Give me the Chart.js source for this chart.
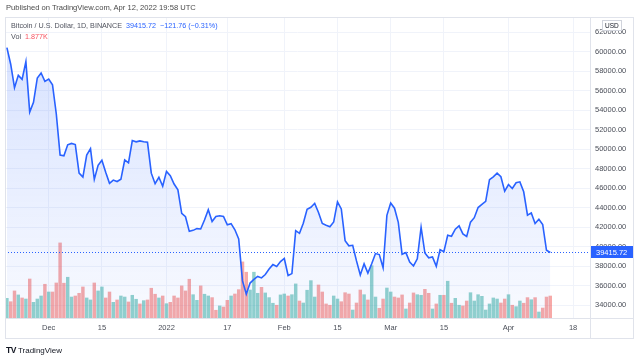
<!DOCTYPE html>
<html>
<head>
<meta charset="utf-8">
<script src="https://cdn.jsdelivr.net/npm/chart.js@4.4.1/dist/chart.umd.min.js"></script>
<style>
  body { margin: 0; background: #fff; font-family: "Liberation Sans", Arial, sans-serif; }
  #wrap { position: relative; width: 640px; height: 358px; overflow: hidden; }
  #c { position: absolute; left: 0; top: 0; }
  .txt { position: absolute; white-space: nowrap; font-size: 7.5px; color: #50535e; }
</style>
</head>
<body>
<div id="wrap">
  <canvas id="c" width="640" height="358"></canvas>
  <div class="txt" style="left:6px; top:3px; font-size:7.6px; color:#4a4a4a;">Published on TradingView.com, Apr 12, 2022 19:58 UTC</div>
  <div class="txt" style="left:11px; top:21px; font-size:7.2px;">Bitcoin / U.S. Dollar, 1D, BINANCE&nbsp; <span style="color:#2962ff">39415.72&nbsp; −121.76 (−0.31%)</span></div>
  <div class="txt" style="left:11px; top:32px; font-size:7.2px;">Vol&nbsp; <span style="color:#f7525f">1.877K</span></div>
  <div class="txt" style="left:6px; top:345px; font-size:8px; color:#131722;"><b style="font-size:8.5px; letter-spacing:-0.5px;">TV</b> TradingView</div>
</div>
<script>
// BTC/USD daily, Nov 20 2021 -> Apr 12 2022 (one entry per day)
const closes = [
  // Nov 20-30
  60400, 58700, 56300, 57560, 57150, 58960, 53800, 54800, 57290, 57800, 56950,
  // Dec
  57180, 56600, 53600, 49400, 49320, 50440, 50590, 50470, 47550, 47140,
  49390, 50050, 46900, 48340, 48860, 47630, 46500, 46830, 46680, 46910,
  48890, 48590, 50880, 50750, 50850, 50750, 50700, 47540, 46460, 47120, 46200,
  // Jan
  47720, 47290, 46430, 45830, 43430, 43080, 41580, 41680, 41860, 41820,
  42740, 43800, 42590, 43100, 43180, 43110, 42250, 42370, 41740, 40800,
  36500, 35150, 36280, 36660, 36960, 36810, 37160, 37720, 38170, 37980, 38480,
  // Feb
  38800, 37050, 37250, 41650, 41380, 42410, 43840, 44040, 44450, 43510,
  42380, 42200, 42050, 42540, 44600, 43880, 40620, 40100, 40150, 38550,
  37100, 38250, 37300, 38250, 39300, 39200, 37850, 43220,
  // Mar
  44480, 43950, 42500, 39230, 39400, 38440, 38030, 38770, 42000, 39360,
  38870, 38950, 38000, 39700, 39500, 41180, 41080, 41800, 42140, 41320,
  41060, 42520, 42980, 44020, 44330, 44650, 46880, 47170, 47550, 47170, 45700,
  // Apr
  46380, 45970, 46550, 46650, 45630, 43230, 43470, 42380, 42820, 42280, 39640, 39415.72
];

// volume in thousands (K)
const volumes = [
  1.68, 1.39, 2.31, 1.97, 1.71, 1.62, 3.33, 1.34, 1.62, 1.88, 2.88,
  2.22, 2.22, 2.99, 6.41, 2.97, 3.48, 1.79, 1.88, 2.11, 2.65,
  1.71, 1.54, 2.99, 2.31, 2.65, 1.71, 2.22, 1.34, 1.54, 1.88,
  1.79, 1.37, 1.94, 1.60, 1.20, 1.48, 1.54, 2.54, 2.03, 1.71, 1.88,
  1.22, 1.34, 1.88, 1.71, 2.74, 2.31, 3.31, 1.99, 1.51, 2.74,
  2.03, 1.88, 1.74, 0.66, 1.03, 0.94, 1.51, 1.88, 2.05, 2.42,
  4.79, 3.91, 2.39, 3.91, 2.11, 2.62, 2.14, 1.74, 1.26, 1.09, 1.97,
  2.05, 1.88, 1.99, 2.91, 1.45, 1.28, 2.37, 3.19, 1.79, 2.82,
  2.22, 1.20, 1.09, 1.88, 1.62, 1.39, 2.16, 2.05, 0.68, 1.28,
  2.39, 1.99, 1.54, 4.47, 1.79, 0.83, 1.62, 2.56,
  2.22, 1.79, 1.71, 1.97, 0.77, 1.28, 2.14, 1.99, 1.94, 2.45,
  2.11, 0.77, 1.20, 1.94, 1.94, 3.14, 1.26, 1.68, 1.09, 1.03,
  1.45, 2.16, 1.45, 1.99, 1.85, 0.68, 1.20, 1.71, 1.62, 1.28, 1.62,
  1.99, 1.09, 0.97, 1.45, 1.26, 1.74, 1.56, 1.74, 0.51, 0.85, 1.79, 1.877
];

// candle direction per day, U = up (green), D = down (red)
const candleDir = (
  'UDDUDUDUUUD' +
  'UDDDDUUDDDUUDUUDDUDUUDUUDUDDDUD' +
  'UDDDDDDUUDUUDDUDDUDDDDUUUDUUUDU' +
  'UDUUDUUUUDDDDUUDDDUDDUDUUDDU' +
  'UDDDUDDUUDDUDUDUDUUDDUUUUUUUUDD' +
  'UDUUDDUDUDDD'
).split('');

// time axis labels (day index from Nov 20)
const tickDays = [11, 25, 42, 58, 73, 87, 101, 115, 132, 149];
const tickLabels = ['Dec', '15', '2022', '17', 'Feb', '15', 'Mar', '15', 'Apr', '18'];

const priceTicks = [34000, 36000, 38000, 40000, 42000, 44000, 46000, 48000,
  50000, 52000, 54000, 56000, 58000, 60000, 62000];

const lastClose = closes[closes.length - 1];

const lineColor = '#2962ff';
const upVol = 'rgba(38, 166, 154, 0.5)';
const downVol = 'rgba(239, 83, 80, 0.5)';
const gridColor = '#f0f3fa';
const frameColor = '#e0e3eb';
const labelFont = { family: 'Liberation Sans', size: 7.5 };

const framePlugin = {
  id: 'frame',
  afterDraw(chart) {
    const ctx = chart.ctx;
    const a = chart.chartArea;
    const y = chart.scales.y.getPixelForValue(lastClose);
    ctx.save();
    // last price dotted line
    ctx.strokeStyle = lineColor;
    ctx.lineWidth = 1;
    ctx.setLineDash([1, 2]);
    ctx.beginPath();
    ctx.moveTo(a.left, Math.round(y) + 0.5);
    ctx.lineTo(a.right, Math.round(y) + 0.5);
    ctx.stroke();
    ctx.setLineDash([]);
    // frame
    ctx.strokeStyle = frameColor;
    ctx.strokeRect(a.left + 0.5, a.top + 0.5, 633 - a.left, 338 - a.top);
    ctx.beginPath();
    ctx.moveTo(a.right + 0.5, a.top);
    ctx.lineTo(a.right + 0.5, 338);
    ctx.moveTo(a.left, a.bottom + 0.5);
    ctx.lineTo(633, a.bottom + 0.5);
    ctx.stroke();
    // price label
    ctx.fillStyle = lineColor;
    ctx.fillRect(a.right + 1, Math.round(y) - 6, 42, 12);
    ctx.fillStyle = '#fff';
    ctx.font = '7.5px "Liberation Sans"';
    ctx.textBaseline = 'middle';
    ctx.fillText(lastClose.toFixed(2), a.right + 6, Math.round(y) + 0.5);
    // USD badge
    ctx.fillStyle = '#fff';
    ctx.fillRect(602, 20, 20, 11);
    ctx.strokeStyle = '#d1d4dc';
    ctx.strokeRect(602.5, 20.5, 19, 10);
    ctx.fillStyle = '#131722';
    ctx.font = '6.5px "Liberation Sans"';
    ctx.fillText('USD', 605, 26);
    ctx.restore();
  }
};

const ctx = document.getElementById('c').getContext('2d');
new Chart(ctx, {
  type: 'bar',
  data: {
    datasets: [{
      type: 'line',
      data: closes.map((v, i) => ({ x: i, y: v })),
      yAxisID: 'y',
      borderColor: lineColor,
      borderWidth: 1.6,
      pointRadius: 0,
      tension: 0,
      fill: 'start',
      backgroundColor: (c) => {
        const a = c.chart.chartArea;
        if (!a) return 'rgba(41,98,255,0.1)';
        const g = c.chart.ctx.createLinearGradient(0, a.top, 0, a.bottom);
        g.addColorStop(0, 'rgba(41, 98, 255, 0.2)');
        g.addColorStop(1, 'rgba(41, 98, 255, 0.03)');
        return g;
      }
    }, {
      type: 'bar',
      data: volumes.map((v, i) => ({ x: i, y: v })),
      yAxisID: 'yv',
      backgroundColor: candleDir.map(d => d === 'U' ? upVol : downVol),
      barThickness: 2.8
    }]
  },
  options: {
    responsive: false,
    animation: false,
    layout: { padding: { left: 5, top: 17, right: 7, bottom: 20 } },
    plugins: { legend: { display: false }, tooltip: { enabled: false } },
    scales: {
      x: {
        type: 'linear',
        offset: false,
        min: -0.5,
        max: 153.45,
        afterBuildTicks: (s) => { s.ticks = tickDays.map(v => ({ value: v })); },
        afterFit: (s) => { s.height = 20; },
        ticks: {
          callback: (v) => tickLabels[tickDays.indexOf(v)],
          color: '#4a4e58',
          font: labelFont,
          padding: 5,
          maxRotation: 0,
          autoSkip: false
        },
        grid: { color: gridColor, drawTicks: false, offset: false },
        border: { display: false }
      },
      y: {
        position: 'right',
        min: 32700,
        max: 63540,
        afterBuildTicks: (s) => { s.ticks = priceTicks.map(v => ({ value: v })); },
        afterFit: (s) => { s.width = 43; },
        ticks: {
          callback: (v) => v.toFixed(2),
          color: '#4a4e58',
          font: labelFont,
          padding: 5
        },
        grid: { color: gridColor, drawTicks: false },
        border: { display: false }
      },
      yv: {
        display: false,
        min: 0,
        max: 25.7
      }
    }
  },
  plugins: [framePlugin]
});
</script>
</body>
</html>
